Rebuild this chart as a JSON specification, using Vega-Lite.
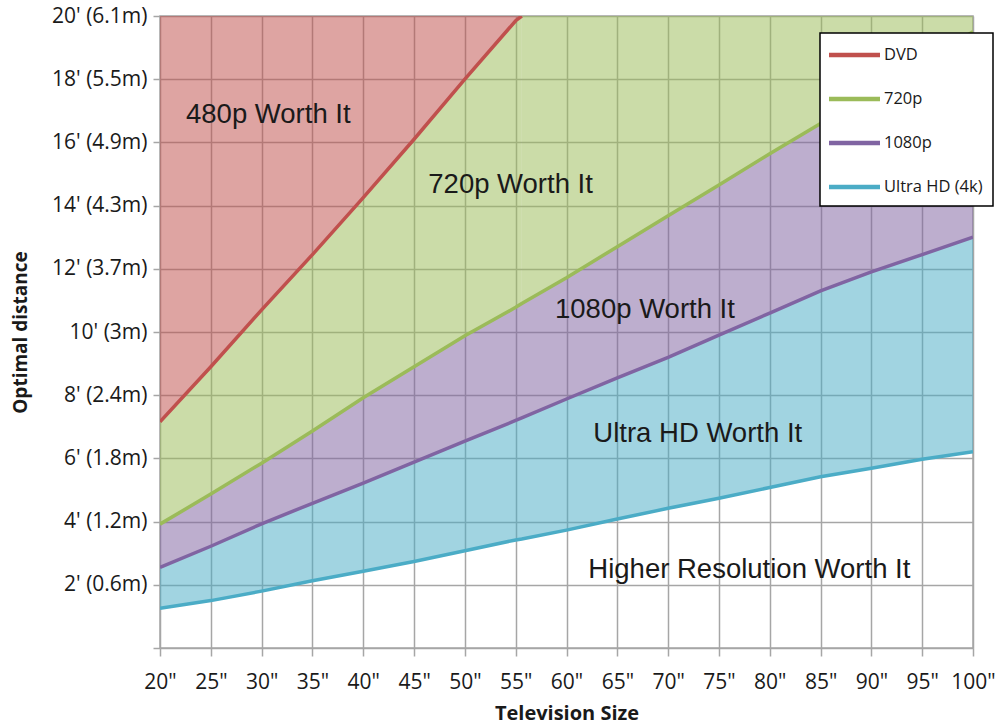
{
  "$schema": "https://vega.github.io/schema/vega-lite/v6.json",
  "width": 813,
  "height": 632,
  "autosize": {"type": "none"},
  "padding": {"left": 160, "top": 16, "right": 23, "bottom": 76},
  "background": "white",
  "config": {
    "view": {"stroke": "#a6a6a6", "strokeWidth": 1.5},
    "axis": {
      "gridColor": "#a6a6a6", "gridWidth": 1.5, "gridOpacity": 1,
      "tickColor": "#a6a6a6", "tickWidth": 1.5, "domain": false,
      "labelFont": "Open Sans", "labelFontSize": 21, "labelColor": "#1a1a1a",
      "labelOverlap": false, "labelFlush": false,
      "titleFont": "Open Sans", "titleFontWeight": "bold", "titleFontSize": 20, "titleColor": "#1a1a1a"
    },
    "axisY": {"titleFontSize": 19},
    "legend": {"strokeWidth": 1.5}
  },
  "datasets": {
    "tv": [
      {"x": 20, "DVD": 7.16, "720p": 3.92, "1080p": 2.55, "Ultra HD (4k)": 1.26},
      {"x": 25, "DVD": 8.9, "720p": 4.87, "1080p": 3.22, "Ultra HD (4k)": 1.5},
      {"x": 30, "DVD": 10.7, "720p": 5.85, "1080p": 3.93, "Ultra HD (4k)": 1.8},
      {"x": 35, "DVD": 12.45, "720p": 6.87, "1080p": 4.58, "Ultra HD (4k)": 2.13},
      {"x": 40, "DVD": 14.25, "720p": 7.92, "1080p": 5.22, "Ultra HD (4k)": 2.43},
      {"x": 45, "DVD": 16.1, "720p": 8.9, "1080p": 5.88, "Ultra HD (4k)": 2.74},
      {"x": 50, "DVD": 18.0, "720p": 9.88, "1080p": 6.55, "Ultra HD (4k)": 3.08},
      {"x": 55, "DVD": 19.85, "720p": 10.78, "1080p": 7.2, "Ultra HD (4k)": 3.42},
      {"x": 55.6, "DVD": 20, "720p": 10.9, "1080p": 7.28, "Ultra HD (4k)": 3.45},
      {"x": 60, "720p": 11.72, "1080p": 7.88, "Ultra HD (4k)": 3.73},
      {"x": 65, "720p": 12.7, "1080p": 8.55, "Ultra HD (4k)": 4.08},
      {"x": 70, "720p": 13.68, "1080p": 9.2, "Ultra HD (4k)": 4.42},
      {"x": 75, "720p": 14.65, "1080p": 9.9, "Ultra HD (4k)": 4.74},
      {"x": 80, "720p": 15.64, "1080p": 10.6, "Ultra HD (4k)": 5.08},
      {"x": 85, "720p": 16.6, "1080p": 11.3, "Ultra HD (4k)": 5.42},
      {"x": 90, "720p": 17.58, "1080p": 11.9, "Ultra HD (4k)": 5.69},
      {"x": 95, "720p": 18.55, "1080p": 12.45, "Ultra HD (4k)": 5.97},
      {"x": 100, "720p": 19.5, "1080p": 13.0, "Ultra HD (4k)": 6.21}
    ],
    "zones": [
      {"text": "480p Worth It", "x": 22.56, "y": 16.61},
      {"text": "720p Worth It", "x": 46.4, "y": 14.39},
      {"text": "1080p Worth It", "x": 58.87, "y": 10.43},
      {"text": "Ultra HD Worth It", "x": 62.64, "y": 6.53},
      {"text": "Higher Resolution Worth It", "x": 62.15, "y": 2.21}
    ]
  },
  "encoding": {
    "x": {
      "field": "x", "type": "quantitative",
      "scale": {"domain": [20, 100], "nice": false, "zero": false},
      "axis": {
        "values": [20, 25, 30, 35, 40, 45, 50, 55, 60, 65, 70, 75, 80, 85, 90, 95, 100],
        "labelExpr": "datum.value + '\"'",
        "tickSize": 8, "labelPadding": 15, "grid": true,
        "title": "Television Size", "titlePadding": 11
      }
    }
  },
  "layer": [
    {
      "data": {"name": "tv"},
      "transform": [{"filter": "isValid(datum.DVD)"}],
      "mark": {"type": "area", "color": "#C0504D", "opacity": 0.52},
      "encoding": {
        "y": {
          "field": "DVD", "type": "quantitative",
          "scale": {"domain": [0, 20], "nice": false},
          "axis": {
            "values": [0, 2, 4, 6, 8, 10, 12, 14, 16, 18, 20],
            "labelExpr": "datum.value == 0 ? '' : datum.value + \"' (\" + round(datum.value * 3.048) / 10 + 'm)'",
            "tickSize": 7, "labelPadding": 6, "grid": true,
            "title": "Optimal distance", "titlePadding": 21
          }
        },
        "y2": {"datum": 20}
      }
    },
    {
      "data": {"name": "tv"},
      "transform": [{"filter": "isValid(datum.DVD)"}],
      "mark": {"type": "area", "color": "#9BBB59", "opacity": 0.52},
      "encoding": {
        "y": {
          "field": "720p", "type": "quantitative",
          "axis": {
            "values": [0, 2, 4, 6, 8, 10, 12, 14, 16, 18, 20],
            "labelExpr": "datum.value == 0 ? '' : datum.value + \"' (\" + round(datum.value * 3.048) / 10 + 'm)'",
            "tickSize": 7, "labelPadding": 6, "grid": true,
            "title": "Optimal distance", "titlePadding": 21
          }
        },
        "y2": {"field": "DVD"}
      }
    },
    {
      "data": {"name": "tv"},
      "transform": [{"filter": "datum.x >= 55.6"}],
      "mark": {"type": "area", "color": "#9BBB59", "opacity": 0.52},
      "encoding": {
        "y": {
          "field": "720p", "type": "quantitative",
          "axis": {
            "values": [0, 2, 4, 6, 8, 10, 12, 14, 16, 18, 20],
            "labelExpr": "datum.value == 0 ? '' : datum.value + \"' (\" + round(datum.value * 3.048) / 10 + 'm)'",
            "tickSize": 7, "labelPadding": 6, "grid": true,
            "title": "Optimal distance", "titlePadding": 21
          }
        },
        "y2": {"datum": 20}
      }
    },
    {
      "data": {"name": "tv"},
      "mark": {"type": "area", "color": "#8064A2", "opacity": 0.52},
      "encoding": {
        "y": {
          "field": "1080p", "type": "quantitative",
          "axis": {
            "values": [0, 2, 4, 6, 8, 10, 12, 14, 16, 18, 20],
            "labelExpr": "datum.value == 0 ? '' : datum.value + \"' (\" + round(datum.value * 3.048) / 10 + 'm)'",
            "tickSize": 7, "labelPadding": 6, "grid": true,
            "title": "Optimal distance", "titlePadding": 21
          }
        },
        "y2": {"field": "720p"}
      }
    },
    {
      "data": {"name": "tv"},
      "mark": {"type": "area", "color": "#4BACC6", "opacity": 0.52},
      "encoding": {
        "y": {
          "field": "Ultra HD (4k)", "type": "quantitative",
          "axis": {
            "values": [0, 2, 4, 6, 8, 10, 12, 14, 16, 18, 20],
            "labelExpr": "datum.value == 0 ? '' : datum.value + \"' (\" + round(datum.value * 3.048) / 10 + 'm)'",
            "tickSize": 7, "labelPadding": 6, "grid": true,
            "title": "Optimal distance", "titlePadding": 21
          }
        },
        "y2": {"field": "1080p"}
      }
    },
    {
      "data": {"name": "tv"},
      "transform": [{"fold": ["DVD", "720p", "1080p", "Ultra HD (4k)"], "as": ["series", "dist"]}],
      "mark": {"type": "line", "strokeWidth": 3.5, "clip": true},
      "encoding": {
        "y": {
          "field": "dist", "type": "quantitative",
          "axis": {
            "values": [0, 2, 4, 6, 8, 10, 12, 14, 16, 18, 20],
            "labelExpr": "datum.value == 0 ? '' : datum.value + \"' (\" + round(datum.value * 3.048) / 10 + 'm)'",
            "tickSize": 7, "labelPadding": 6, "grid": true,
            "title": "Optimal distance", "titlePadding": 21
          }
        },
        "color": {
          "field": "series", "type": "nominal",
          "scale": {"domain": ["DVD", "720p", "1080p", "Ultra HD (4k)"], "range": ["#C0504D", "#9BBB59", "#8064A2", "#4BACC6"]},
          "legend": {
            "title": null, "orient": "none", "legendX": 660, "legendY": 17,
            "symbolType": "M-1.3,0H3.8", "symbolSize": 400, "symbolStrokeWidth": 4.5,
            "labelFont": "Open Sans", "labelFontSize": 16.5, "labelColor": "#1a1a1a",
            "labelOffset": 29.5, "labelLimit": 200,
            "strokeColor": "#000000", "fillColor": "#ffffff",
            "padding": 9.5, "rowPadding": 22
          }
        },
        "detail": {"field": "series"}
      }
    },
    {
      "data": {"name": "zones"},
      "mark": {"type": "text", "align": "left", "baseline": "alphabetic", "font": "Liberation Sans", "fontSize": 27.5, "color": "#1a1a1a"},
      "encoding": {
        "y": {
          "field": "y", "type": "quantitative",
          "axis": {
            "values": [0, 2, 4, 6, 8, 10, 12, 14, 16, 18, 20],
            "labelExpr": "datum.value == 0 ? '' : datum.value + \"' (\" + round(datum.value * 3.048) / 10 + 'm)'",
            "tickSize": 7, "labelPadding": 6, "grid": true,
            "title": "Optimal distance", "titlePadding": 21
          }
        },
        "text": {"field": "text"}
      }
    }
  ]
}
